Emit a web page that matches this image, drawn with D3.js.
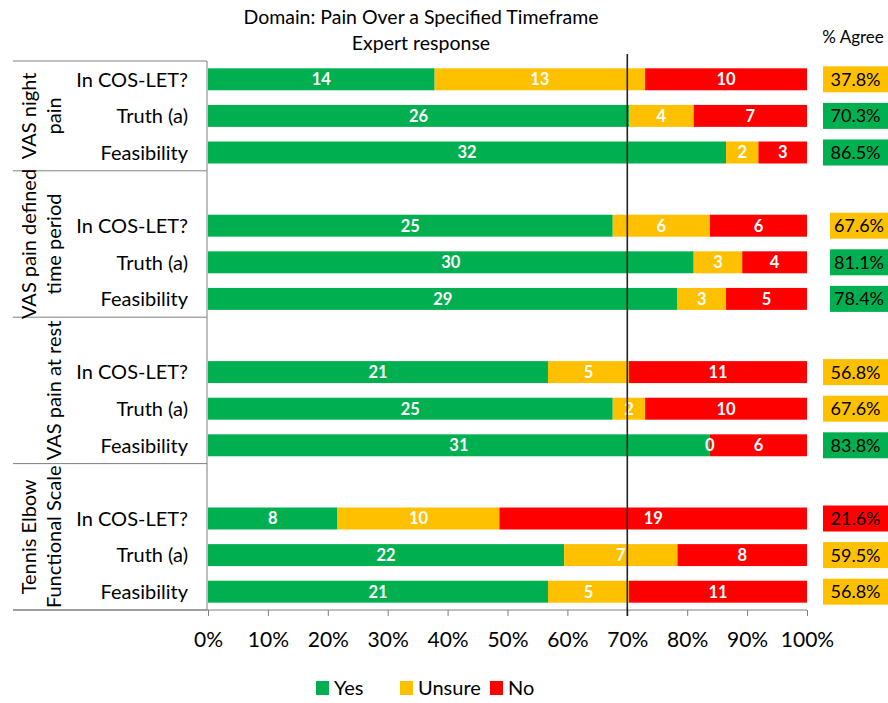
<!DOCTYPE html>
<html><head><meta charset="utf-8">
<script src="https://cdn.jsdelivr.net/npm/d3@7/dist/d3.min.js"></script>
<style>body{margin:0;background:#fff}svg{display:block;font-family:Lato,"Open Sans",sans-serif}</style>
</head><body><svg id="c" width="888" height="703"></svg>
<script>
const groups = [["VAS night","pain"],["VAS pain defined","time period"],["VAS pain at rest"],["Tennis Elbow","Functional Scale"]];
const questions = ["In COS-LET?","Truth (a)","Feasibility"];
const series = ["Yes","Unsure","No"];
const yesVals    = [14,26,32, 25,30,29, 21,25,31, 8,22,21];
const unsureVals = [13,4,2,   6,3,3,   5,2,0,   10,7,5];
const noVals     = [10,7,3,   6,4,5,   11,10,6, 19,8,11];
const agreePct   = [37.8,70.3,86.5, 67.6,81.1,78.4, 56.8,67.6,83.8, 21.6,59.5,56.8];
const xTicks = [0,0.1,0.2,0.3,0.4,0.5,0.6,0.7,0.8,0.9,1];
const threshold = 0.7;

const colors = {Yes:"#00B050", Unsure:"#FFC000", No:"#FF0000"};
const svg = d3.select("#c");
const W = 888;

const rows = [];
let slot = 0;
groups.forEach((g,gi)=>{
  if(gi>0) slot++;
  questions.forEach((q,qi)=>{
    const i = gi*3+qi;
    rows.push({slot:slot, g:gi, q:q, yes:yesVals[i], unsure:unsureVals[i], no:noVals[i], agree:agreePct[i]});
    slot++;
  });
});
const nSlots = slot;

const x = d3.scaleLinear().domain([0,1]).range([208,807]);
const y = d3.scaleBand().domain(d3.range(nSlots)).range([61,610]).paddingInner(0.4).paddingOuter(0.2);
const slotY = d3.scaleLinear().domain([0,nSlots]).range([61,610]);

const stack = d3.stack().keys(["yes","unsure","no"]).offset(d3.stackOffsetExpand);
const stacked = stack(rows);
const keyName = {yes:"Yes", unsure:"Unsure", no:"No"};
const barG = svg.append("g"), lblG = svg.append("g");
stacked.forEach(layer=>{
  barG.append("g").selectAll("rect").data(layer).join("rect")
    .attr("x", d=>x(d[0])).attr("width", d=>x(d[1])-x(d[0]))
    .attr("y", d=>y(d.data.slot)).attr("height", y.bandwidth())
    .attr("fill", colors[keyName[layer.key]]);
  lblG.append("g").selectAll("text").data(layer).join("text")
    .attr("x", d=>(x(d[0])+x(d[1]))/2).attr("y", d=>y(d.data.slot)+y.bandwidth()/2)
    .attr("dy","0.36em").attr("text-anchor","middle")
    .attr("fill","#fff").attr("font-weight","bold").attr("font-size",16.5)
    .text(d=>d.data[layer.key]);
});

const axisY = 610;
const xAxis = svg.append("g").attr("transform",`translate(0,${axisY})`)
  .call(d3.axisBottom(x).tickValues(xTicks).tickFormat(d3.format(".0%")).tickSize(6).tickSizeOuter(0));
xAxis.select(".domain").remove();
xAxis.selectAll("line").attr("stroke","#7f7f7f");
xAxis.selectAll("text").attr("font-size",21).attr("fill","#000").attr("dy","0").attr("y",37).attr("font-family","Lato");
svg.append("line").attr("x1",13).attr("x2",x(1)).attr("y1",axisY).attr("y2",axisY).attr("stroke","#7f7f7f");

svg.append("line").attr("x1",207).attr("x2",207).attr("y1",61).attr("y2",610).attr("stroke","#7f7f7f");
const boundaries = [0];
rows.forEach((r,i)=>{ if(i%3===2) boundaries.push(r.slot+1); });
svg.selectAll(".sep").data(boundaries).join("line")
  .attr("x1",13).attr("x2",207).attr("y1",d=>slotY(d)).attr("y2",d=>slotY(d)).attr("stroke","#7f7f7f");

svg.selectAll(".rl").data(rows).join("text")
  .attr("x",188).attr("y",d=>y(d.slot)+y.bandwidth()/2).attr("dy","0.36em")
  .attr("text-anchor","end").attr("font-size",20).attr("fill","#000").text(d=>d.q);

groups.forEach((g,gi)=>{
  const b0 = slotY(boundaries[gi]), b1 = slotY(boundaries[gi+1]);
  const cy = (b0+b1)/2;
  const t = svg.append("text").attr("transform",`translate(0,${cy}) rotate(-90)`)
    .attr("text-anchor","middle").attr("font-size",20).attr("fill","#000");
  const n = g.length;
  g.forEach((line,li)=>{
    t.append("tspan").attr("x",0).attr("y", 61 - (n-1-li)*25).text(line);
  });
});

svg.append("line").attr("x1",x(threshold)).attr("x2",x(threshold)).attr("y1",54).attr("y2",616)
  .attr("stroke","#222").attr("stroke-width",1.6);

function agreeColor(p){ return p>=70 ? colors.Yes : (p>=30 ? colors.Unsure : colors.No); }
svg.append("text").attr("x",853).attr("y",43).attr("text-anchor","middle").attr("font-size",17).attr("fill","#000").text("% Agree");
const bx = rows.map(r=> r.g===1 ? 830 : 823);
svg.selectAll(".ab").data(rows).join("rect")
  .attr("x",(d,i)=>bx[i]).attr("width",(d,i)=>W-bx[i])
  .attr("y",d=>y(d.slot)+y.bandwidth()/2-13).attr("height",26)
  .attr("fill",d=>agreeColor(d.agree));
svg.selectAll(".at").data(rows).join("text")
  .attr("x",(d,i)=>(bx[i]+W)/2).attr("y",d=>y(d.slot)+y.bandwidth()/2).attr("dy","0.36em")
  .attr("text-anchor","middle").attr("font-size",18).attr("fill","#000")
  .text(d=>d.agree.toFixed(1)+"%");

svg.append("text").attr("x",421).attr("y",24).attr("text-anchor","middle").attr("font-size",19.5).attr("fill","#000").text("Domain: Pain Over a Specified Timeframe");
svg.append("text").attr("x",421).attr("y",50).attr("text-anchor","middle").attr("font-size",19.5).attr("fill","#000").text("Expert response");

const legX = [316, 400, 490];
const leg = svg.selectAll(".lg").data(series).join("g").attr("transform",(d,i)=>`translate(${legX[i]},681)`);
leg.append("rect").attr("width",13).attr("height",14).attr("fill",d=>colors[d]);
leg.append("text").attr("x",18).attr("y",7).attr("dy","0.36em").attr("font-size",20).attr("fill","#000").text(d=>d);
</script></body></html>
